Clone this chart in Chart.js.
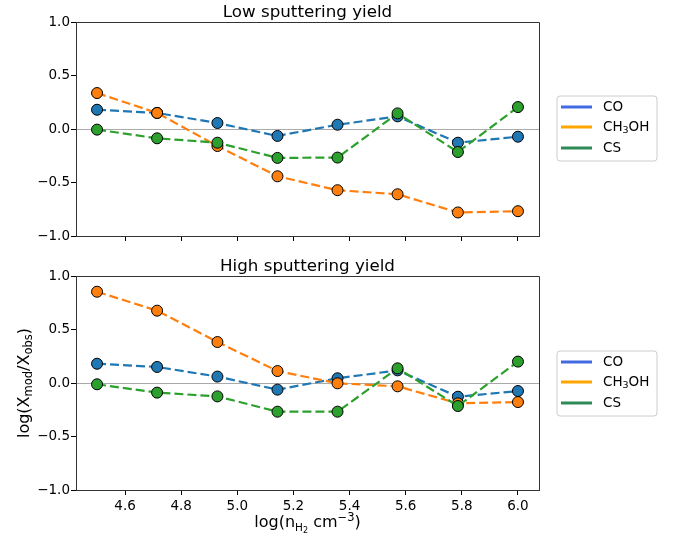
<!DOCTYPE html>
<html>
<head>
<meta charset="utf-8">
<script src="https://cdn.jsdelivr.net/npm/chart.js@4"></script>
<style>
  html, body { margin: 0; padding: 0; background: #fff; }
  #wrap { position: relative; width: 676px; height: 539px; overflow: hidden; }
  canvas { position: absolute; left: 0; }
  #c1 { top: 0; }
  #c2 { top: 250px; }
</style>
</head>
<body>
<div id="wrap">
  <canvas id="c1" width="676" height="250"></canvas>
  <canvas id="c2" width="676" height="289"></canvas>
</div>
<script>
// ---- data ----
const density = [4.5, 4.714, 4.929, 5.143, 5.357, 5.571, 5.786, 6.0];
const xTicks = [4.6, 4.8, 5.0, 5.2, 5.4, 5.6, 5.8, 6.0];
const yTicks = [-1.0, -0.5, 0.0, 0.5, 1.0];

const lowCO    = [0.18, 0.15, 0.056, -0.065, 0.04, 0.118, -0.128, -0.072];
const lowCH3OH = [0.336, 0.15, -0.159, -0.442, -0.572, -0.61, -0.78, -0.768];
const lowCS    = [-0.006, -0.087, -0.128, -0.27, -0.267, 0.146, -0.215, 0.205];

const highCO    = [0.18, 0.15, 0.06, -0.062, 0.044, 0.118, -0.128, -0.075];
const highCH3OH = [0.853, 0.676, 0.383, 0.112, -0.003, -0.031, -0.19, -0.178];
const highCS    = [-0.012, -0.09, -0.125, -0.268, -0.268, 0.137, -0.215, 0.2];

const seriesNames = ['CO', 'CH3OH', 'CS'];
const panelTitles = ['Low sputtering yield', 'High sputtering yield'];
const lineColors = ['#1f77b4', '#ff7f0e', '#2ca02c'];
const legendColors = ['#4169e1', '#ffa500', '#2e8b57'];

const FONT = "'DejaVu Sans', sans-serif";

function pts(vals) { return density.map((x, i) => ({ x: x, y: vals[i] })); }

function makeDatasets(arrs) {
  return arrs.map((vals, i) => ({
    label: seriesNames[i],
    data: pts(vals),
    borderColor: lineColors[i],
    backgroundColor: lineColors[i],
    borderWidth: 2.2,
    borderDash: [9, 4],
    pointRadius: 5.5,
    pointHoverRadius: 5.5,
    pointBackgroundColor: lineColors[i],
    pointBorderColor: '#000',
    pointBorderWidth: 1,
    tension: 0,
    order: 3 - i
  }));
}

// custom legend (matplotlib style box)
function legendPlugin(boxTop) {
  return {
    id: 'mplLegend',
    afterDraw(chart) {
      const ctx = chart.ctx;
      ctx.save();
      const x0 = 557, y0 = boxTop, w = 100, h = 65, r = 3;
      ctx.beginPath();
      ctx.moveTo(x0 + r, y0);
      ctx.arcTo(x0 + w, y0, x0 + w, y0 + h, r);
      ctx.arcTo(x0 + w, y0 + h, x0, y0 + h, r);
      ctx.arcTo(x0, y0 + h, x0, y0, r);
      ctx.arcTo(x0, y0, x0 + w, y0, r);
      ctx.closePath();
      ctx.fillStyle = 'rgba(255,255,255,0.8)';
      ctx.fill();
      ctx.strokeStyle = '#cccccc';
      ctx.lineWidth = 1;
      ctx.stroke();
      const rows = [boxTop + 11, boxTop + 31, boxTop + 52];
      ctx.textBaseline = 'middle';
      ctx.textAlign = 'left';
      rows.forEach((yy, i) => {
        ctx.strokeStyle = legendColors[i];
        ctx.lineWidth = 3;
        ctx.beginPath();
        ctx.moveTo(561, yy);
        ctx.lineTo(592, yy);
        ctx.stroke();
        ctx.fillStyle = '#000';
        ctx.font = '13.5px ' + FONT;
        if (i === 1) {
          let x = 603;
          ctx.fillText('CH', x, yy);
          x += ctx.measureText('CH').width;
          ctx.font = '9.5px ' + FONT;
          ctx.fillText('3', x, yy + 4);
          x += ctx.measureText('3').width;
          ctx.font = '13.5px ' + FONT;
          ctx.fillText('OH', x, yy);
        } else {
          ctx.fillText(seriesNames[i], 603, yy);
        }
      });
      ctx.restore();
    }
  };
}

// panel title centred over the axes
function titlePlugin(text, baseline) {
  return {
    id: 'mplTitle',
    afterDraw(chart) {
      const ctx = chart.ctx, ca = chart.chartArea;
      ctx.save();
      ctx.fillStyle = '#000';
      ctx.font = '16.7px ' + FONT;
      ctx.textAlign = 'center';
      ctx.textBaseline = 'alphabetic';
      ctx.fillText(text, (ca.left + ca.right) / 2, baseline);
      ctx.restore();
    }
  };
}

// axis labels with sub/superscripts
const labelsPlugin = {
  id: 'mplLabels',
  afterDraw(chart) {
    const ctx = chart.ctx;
    const ca = chart.chartArea;
    ctx.save();
    ctx.fillStyle = '#000';
    ctx.textBaseline = 'alphabetic';
    ctx.textAlign = 'left';
    const big = '16px ' + FONT, small = '11.5px ' + FONT;
    // y label rotated
    const parts = [['log(X', big, 0], ['mod', small, 3], ['/X', big, 0], ['obs', small, 3], [')', big, 0]];
    let total = 0;
    parts.forEach(p => { ctx.font = p[1]; total += ctx.measureText(p[0]).width; });
    ctx.translate(29, (ca.top + ca.bottom) / 2);
    ctx.rotate(-Math.PI / 2);
    let x = -total / 2;
    parts.forEach(p => { ctx.font = p[1]; ctx.fillText(p[0], x, p[2]); x += ctx.measureText(p[0]).width; });
    ctx.setTransform(1, 0, 0, 1, 0, 0);
    // x label
    const xp = [['log(n', big, 0], ['H', '10.5px ' + FONT, 4], ['2', '8px ' + FONT, 6], [' cm', big, 0], ['\u22123', small, -6], [')', big, 0]];
    total = 0;
    xp.forEach(p => { ctx.font = p[1]; total += ctx.measureText(p[0]).width; });
    x = (ca.left + ca.right) / 2 - total / 2;
    const base = 277;
    xp.forEach(p => { ctx.font = p[1]; ctx.fillText(p[0], x, base + p[2]); x += ctx.measureText(p[0]).width; });
    ctx.restore();
  }
};

// top and right border of axes box
const boxPlugin = {
  id: 'box',
  afterDraw(chart) {
    const ctx = chart.ctx, ca = chart.chartArea;
    ctx.save();
    ctx.strokeStyle = '#333';
    ctx.lineWidth = 1;
    ctx.beginPath();
    ctx.moveTo(Math.round(ca.left) + 0.5, Math.round(ca.top) + 0.5);
    ctx.lineTo(Math.round(ca.right) + 0.5, Math.round(ca.top) + 0.5);
    ctx.lineTo(Math.round(ca.right) + 0.5, Math.round(ca.bottom) + 0.5);
    ctx.stroke();
    ctx.restore();
  }
};

function makeChart(id, arrs, opts) {
  const zeroGrid = (c) => (c.tick && c.tick.value === 0) ? '#aaaaaa' : 'rgba(0,0,0,0)';
  return new Chart(document.getElementById(id), {
    type: 'line',
    data: { datasets: makeDatasets(arrs) },
    options: {
      responsive: false,
      animation: false,
      layout: { padding: { left: 0, right: 137, top: opts.topPad, bottom: 0 } },
      plugins: {
        legend: { display: false },
        tooltip: { enabled: false },
        title: { display: false }
      },
      scales: {
        x: {
          type: 'linear',
          min: 4.425, max: 6.075,
          afterBuildTicks: (s) => { s.ticks = xTicks.map(v => ({ value: v })); },
          afterFit: (s) => { s.height = opts.xHeight; },
          grid: { drawOnChartArea: false, tickLength: 5, color: '#000', tickWidth: 1 },
          border: { display: true, color: '#333', width: 1 },
          ticks: {
            display: opts.xLabels,
            color: '#000',
            padding: 3,
            maxRotation: 0,
            autoSkip: false,
            font: { family: FONT, size: 13.5 },
            callback: (v) => Number(v).toFixed(1)
          }
        },
        y: {
          type: 'linear',
          min: -1, max: 1,
          afterBuildTicks: (s) => { s.ticks = yTicks.map(v => ({ value: v })); },
          afterFit: (s) => { s.width = 76; },
          grid: { drawOnChartArea: true, tickLength: 5, color: zeroGrid, tickColor: '#000', lineWidth: 1 },
          border: { display: true, color: '#333', width: 1 },
          ticks: {
            color: '#000',
            padding: 1,
            font: { family: FONT, size: 13.5 },
            callback: (v) => Number(v).toFixed(1).replace('-', '\u2212')
          }
        }
      }
    },
    plugins: opts.plugins
  });
}

makeChart('c1', [lowCO, lowCH3OH, lowCS], {
  topPad: 22, xHeight: 14, xLabels: false,
  plugins: [boxPlugin, titlePlugin(panelTitles[0], 17), legendPlugin(96)]
});
makeChart('c2', [highCO, highCH3OH, highCS], {
  topPad: 26, xHeight: 49, xLabels: true,
  plugins: [boxPlugin, titlePlugin(panelTitles[1], 21), legendPlugin(101), labelsPlugin]
});
</script>
</body>
</html>
